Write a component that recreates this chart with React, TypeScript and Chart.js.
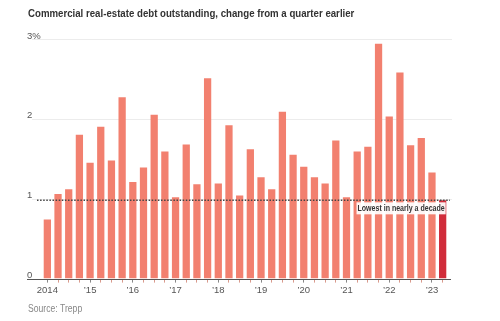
import React, { useEffect, useRef } from 'react';
import { Chart, registerables } from 'chart.js';

Chart.register(...registerables);

const quarters: string[] = [
  '2014Q1', '2014Q2', '2014Q3', '2014Q4',
  '2015Q1', '2015Q2', '2015Q3', '2015Q4',
  '2016Q1', '2016Q2', '2016Q3', '2016Q4',
  '2017Q1', '2017Q2', '2017Q3', '2017Q4',
  '2018Q1', '2018Q2', '2018Q3', '2018Q4',
  '2019Q1', '2019Q2', '2019Q3', '2019Q4',
  '2020Q1', '2020Q2', '2020Q3', '2020Q4',
  '2021Q1', '2021Q2', '2021Q3', '2021Q4',
  '2022Q1', '2022Q2', '2022Q3', '2022Q4',
  '2023Q1', '2023Q2',
];

const debtChange: number[] = [
  0.74, 1.06, 1.12, 1.8,
  1.45, 1.9, 1.48, 2.27,
  1.21, 1.39, 2.05, 1.59,
  1.02, 1.68, 1.18, 2.51,
  1.19, 1.92, 1.04, 1.62,
  1.27, 1.12, 2.09, 1.55,
  1.4, 1.27, 1.19, 1.73,
  1.02, 1.59, 1.65, 2.94,
  2.03, 2.58, 1.67, 1.76,
  1.33, 0.98,
];

const yearTickLabels: string[] = ['2014', '’15', '’16', '’17', '’18', '’19', '’20', '’21', '’22', '’23'];
const yTickValues: number[] = [0, 1, 2, 3];
const referenceLevel = 0.98;
const annotationText = 'Lowest in nearly a decade';
const titleText = 'Commercial real-estate debt outstanding, change from a quarter earlier';
const sourceText = 'Source: Trepp';

const SANS = '"Liberation Sans", Arial, sans-serif';
const BAR = '#f2806f';
const BAR_LAST = '#d12c3a';

function drawCondensed(
  ctx: CanvasRenderingContext2D,
  text: string,
  x: number,
  y: number,
  font: string,
  color: string,
  scaleX: number,
  align: CanvasTextAlign,
) {
  ctx.save();
  ctx.font = font;
  ctx.fillStyle = color;
  ctx.textAlign = align;
  ctx.textBaseline = 'middle';
  ctx.translate(x, y);
  ctx.scale(scaleX, 1);
  ctx.fillText(text, 0, 0);
  ctx.restore();
}

const overlayPlugin = {
  id: 'overlay',
  beforeDatasetsDraw(chart: any) {
    const { ctx, chartArea, scales } = chart;
    const y = scales.y;
    ctx.save();
    ctx.strokeStyle = '#ececec';
    ctx.lineWidth = 1;
    yTickValues.forEach((v) => {
      if (v === 0) return;
      const py = Math.round(y.getPixelForValue(v)) + 0.5;
      ctx.beginPath();
      ctx.moveTo(chartArea.left - 10, py);
      ctx.lineTo(chartArea.right + 4, py);
      ctx.stroke();
    });
    ctx.restore();
  },
  afterDatasetsDraw(chart: any) {
    const { ctx, chartArea, scales } = chart;
    const y = scales.y;
    ctx.save();
    // baseline
    const py0 = Math.round(y.getPixelForValue(0)) + 0.5;
    ctx.strokeStyle = '#555';
    ctx.lineWidth = 1;
    ctx.beginPath();
    ctx.moveTo(chartArea.left - 15, py0);
    ctx.lineTo(chartArea.right + 3, py0);
    ctx.stroke();
    // dotted reference
    const pr = y.getPixelForValue(referenceLevel);
    ctx.strokeStyle = '#444';
    ctx.lineWidth = 1.5;
    ctx.setLineDash([1.5, 1.6]);
    ctx.beginPath();
    ctx.moveTo(chartArea.left - 5, pr);
    ctx.lineTo(chartArea.right + 2, pr);
    ctx.stroke();
    ctx.setLineDash([]);
    // annotation
    const meta = chart.getDatasetMeta(0);
    const last = meta.data[meta.data.length - 1];
    const aFont = `bold 9.5px ${SANS}`;
    const aScale = 0.74;
    ctx.font = aFont;
    const w = ctx.measureText(annotationText).width * aScale;
    const xr = last.x + 2;
    const ty = pr + 8;
    ctx.fillStyle = 'rgba(255,255,255,0.92)';
    ctx.fillRect(xr - w - 1, ty - 6, w + 2, 12);
    ctx.restore();
    drawCondensed(ctx, annotationText, xr, ty, aFont, '#333', aScale, 'right');
  },
  afterDraw(chart: any) {
    const { ctx } = chart;
    drawCondensed(ctx, titleText, 28, 14, `bold 11.5px ${SANS}`, '#333', 0.84, 'left');
    drawCondensed(ctx, sourceText, 28, 309, `10px ${SANS}`, '#888', 0.86, 'left');
  },
};

export default function App() {
  const canvasRef = useRef<HTMLCanvasElement | null>(null);

  useEffect(() => {
    document.body.style.margin = '0';
    const canvas = canvasRef.current;
    if (!canvas) return;
    const chart = new Chart(canvas, {
      type: 'bar',
      data: {
        labels: quarters,
        datasets: [
          {
            data: debtChange,
            backgroundColor: debtChange.map((_, i) => (i === debtChange.length - 1 ? BAR_LAST : BAR)),
            categoryPercentage: 1,
            barPercentage: 0.68,
          },
        ],
      },
      options: {
        animation: false,
        responsive: true,
        maintainAspectRatio: false,
        layout: { padding: { left: 27, right: 52, top: 39, bottom: 23 } },
        plugins: {
          legend: { display: false },
          tooltip: { enabled: false },
          title: { display: false },
        },
        scales: {
          x: {
            grid: {
              display: true,
              drawOnChartArea: false,
              offset: false,
              tickLength: 4,
              color: (c: any) => (c.index % 4 === 0 ? '#888' : '#d99a8c'),
            },
            border: { display: false },
            ticks: {
              autoSkip: false,
              maxRotation: 0,
              minRotation: 0,
              padding: 2,
              color: '#555',
              font: { family: SANS, size: 9.5 },
              callback: (_v: any, i: number) => (i % 4 === 0 ? yearTickLabels[i / 4] : ''),
            },
          },
          y: {
            min: 0,
            max: 3,
            grid: { display: false },
            border: { display: false },
            afterFit: (s: any) => {
              s.width = 15;
            },
            ticks: {
              stepSize: 1,
              crossAlign: 'far',
              padding: 0,
              labelOffset: -3,
              color: '#555',
              font: { family: SANS, size: 9.5 },
              callback: (v: any) => (v === 3 ? '3%' : String(v)),
            },
          },
        },
      },
      plugins: [overlayPlugin],
    });
    return () => chart.destroy();
  }, []);

  return (
    <div style={{ position: 'relative', width: 500, height: 321 }}>
      <canvas ref={canvasRef} />
    </div>
  );
}
